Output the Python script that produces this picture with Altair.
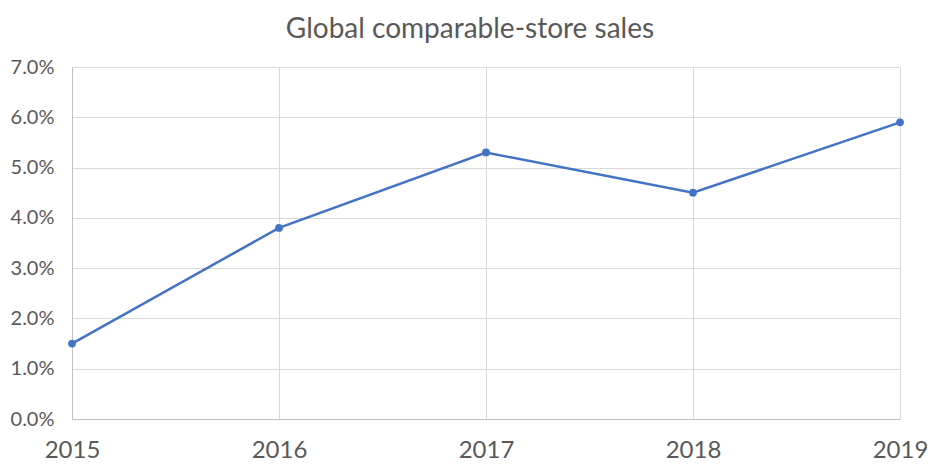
import pandas as pd
import altair as alt

# Values
years = [2015, 2016, 2017, 2018, 2019]
sales = [0.015, 0.038, 0.053, 0.045, 0.059]

data = pd.DataFrame({'year': years, 'sales': sales})

base = alt.Chart(data).encode(
    x=alt.X('year:Q', scale=alt.Scale(domain=[2015, 2019], nice=False),
            axis=alt.Axis(values=years, format='d', title=None, labelFontSize=24,
                          labelPadding=19, ticks=False, grid=True, labelFlush=False,
                          labelColor='#595959', domainColor='#BFBFBF')),
    y=alt.Y('sales:Q', scale=alt.Scale(domain=[0, 0.07], nice=False),
            axis=alt.Axis(values=[i / 100 for i in range(8)], format='.1%', title=None,
                          labelFontSize=20, labelPadding=18, ticks=False, grid=True,
                          labelColor='#595959', domainColor='#BFBFBF'))
)

line = base.mark_line(color='#4472C4', strokeWidth=2.5)
points = base.mark_point(filled=True, size=60, color='#4472C4', opacity=1)

chart = (line + points).properties(
    width=828,
    height=352,
    autosize=alt.AutoSizeParams(type='none'),
    padding={'left': 64, 'top': 59, 'right': 35, 'bottom': 44},
    title=alt.TitleParams('Global comparable-store sales', fontSize=28, fontWeight='normal',
                          color='#595959', anchor='middle', offset=13, dx=-16),
).configure_axis(
    gridColor='#D9D9D9',
    labelFont='Lato',
).configure_title(
    font='Lato'
).configure_view(
    stroke=None
)

chart.save("out.html", embed_options={"renderer": "svg", "actions": False})
